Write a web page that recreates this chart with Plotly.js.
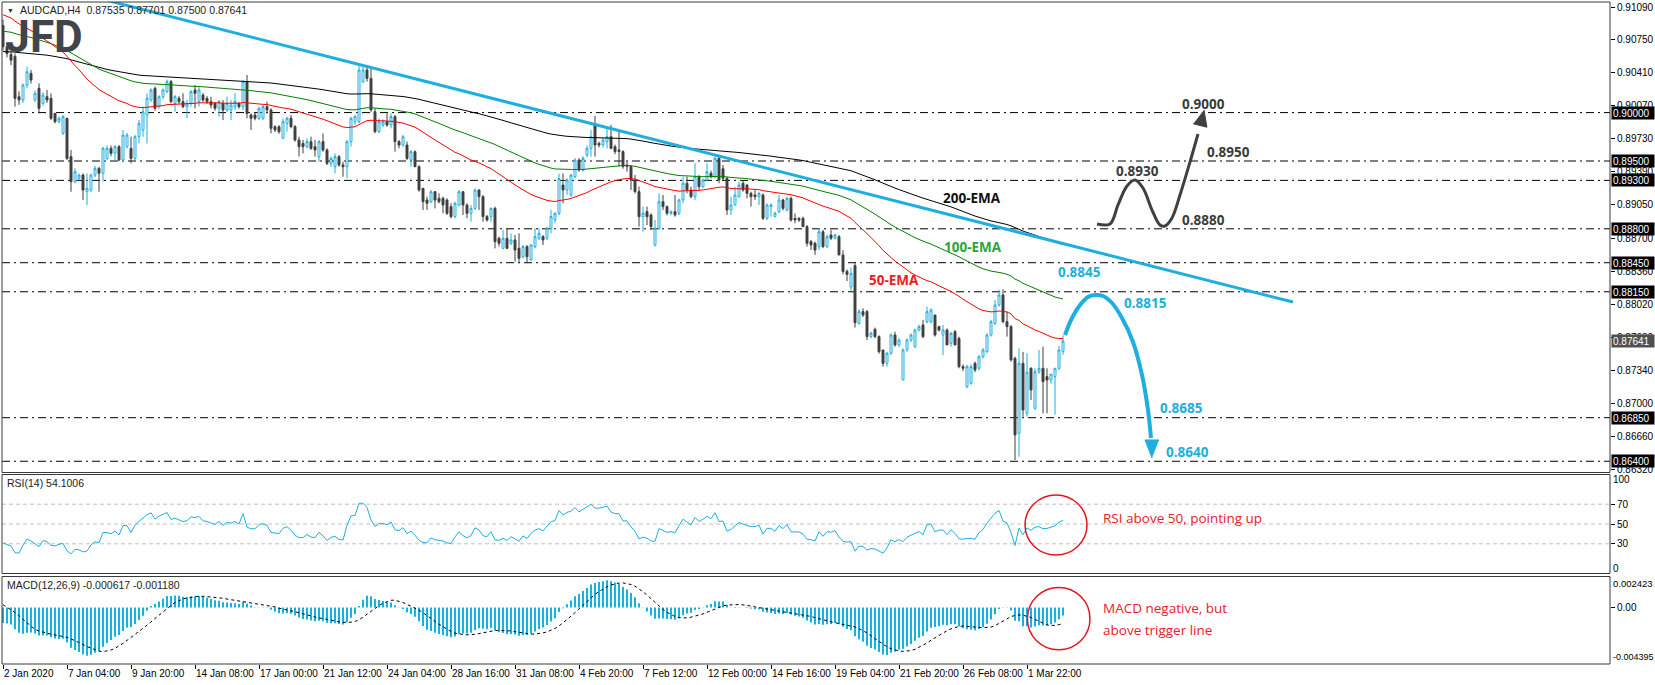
<!DOCTYPE html>
<html><head><meta charset="utf-8">
<script src="https://cdn.plot.ly/plotly-3.0.1.min.js"></script>
<style>html,body{margin:0;padding:0;background:#fff;}#chart{width:1655px;height:685px;}</style>
</head><body><div id="chart"></div>
<script>
// ---------------- DATA ----------------
const symbol = 'AUDCAD,H4';
const opens = [
0.9090,0.9068,0.9060,0.9058,0.90164,0.90130,0.90285,0.90405,0.90130,0.90250,
0.90095,0.90164,0.90147,0.89992,0.89906,0.89786,0.89941,0.89545,0.89287,0.89321,
0.89355,0.89183,0.89200,0.89355,0.89424,0.89373,0.89527,0.89631,0.89579,0.89648,
0.89510,0.89648,0.89631,0.89527,0.89751,0.89820,0.89975,0.90130,0.90250,0.90061,
0.90164,0.90216,0.90319,0.90095,0.90147,0.90113,0.90061,0.90095,0.90233,0.90113,
0.90181,0.90147,0.90113,0.90095,0.90044,0.90095,0.90027,0.90027,0.90061,0.90095,
0.90061,0.90319,0.89975,0.89975,0.89941,0.89941,0.90061,0.90027,0.89854,0.89854,
0.89734,0.89889,0.89941,0.89854,0.89717,0.89682,0.89648,0.89700,0.89648,0.89545,
0.89700,0.89614,0.89476,0.89441,0.89545,0.89459,0.89441,0.89700,0.89906,0.89906,
0.90319,0.90439,0.90353,0.90009,0.89803,0.89872,0.89906,0.89872,0.89958,0.89700,
0.89665,0.89665,0.89510,0.89596,0.89441,0.89218,0.89097,0.89080,0.89183,0.89115,
0.89115,0.89097,0.89029,0.88926,0.89046,0.89183,0.89046,0.88960,0.89011,0.89200,
0.89132,0.88926,0.88926,0.89011,0.88702,0.88598,0.88702,0.88650,0.88685,0.88598,
0.88512,0.88616,0.88478,0.88616,0.88702,0.88719,0.88702,0.88805,0.88891,0.88960,
0.89252,0.89201,0.89149,0.89338,0.89510,0.89407,0.89562,0.89631,0.89872,0.89682,
0.89665,0.89700,0.89751,0.89648,0.89614,0.89597,0.89459,0.89442,0.89304,0.89184,
0.88925,0.88977,0.88943,0.88633,0.88805,0.89080,0.89029,0.88960,0.88977,0.88960,
0.89098,0.89270,0.89201,0.89132,0.89338,0.89235,0.89304,0.89373,0.89338,0.89528,
0.89420,0.89321,0.88994,0.89046,0.89132,0.89270,0.89252,0.89166,0.89149,0.89132,
0.89149,0.88908,0.89029,0.88925,0.88977,0.89098,0.88994,0.89115,0.88908,0.88908,
0.88908,0.88822,0.88668,0.88650,0.88616,0.88770,0.88616,0.88736,0.88702,0.88719,
0.88530,0.88360,0.88200,0.88420,0.87824,0.87945,0.87945,0.87687,0.87762,0.87687,
0.87549,0.87411,0.87515,0.87704,0.87601,0.87239,0.87549,0.87652,0.87583,0.87755,
0.87807,0.87841,0.87841,0.87910,0.87790,0.87704,0.87755,0.87618,0.87738,0.87669,
0.87377,0.87171,0.87205,0.87411,0.87360,0.87480,0.87532,0.87704,0.87824,0.88014,
0.88117,0.87841,0.87790,0.87463,0.86689,0.87411,0.86895,0.87360,0.86947,0.87325,
0.87360,0.87274,0.87239,0.87274,0.87360,0.87535];
const highs = [
0.9096,0.9072,0.9063,0.9061,0.9022,0.9030,0.90474,0.9044,0.9023,0.90302,
0.9021,0.90233,0.90199,0.89995,0.8996,0.89975,0.89945,0.89614,0.89424,0.8937,
0.89373,0.89373,0.8937,0.8945,0.89441,0.89648,0.8966,0.8966,0.89665,0.89665,
0.89820,0.8979,0.89751,0.8977,0.89923,0.90061,0.90199,0.9025,0.9027,0.9018,
0.9025,0.9034,0.90336,0.90181,0.9017,0.90199,0.90130,0.90233,0.90285,0.90267,
0.9020,0.9017,0.90164,0.9011,0.90130,0.90130,0.90164,0.90130,0.90199,0.9011,
0.90336,0.90388,0.89992,0.9000,0.90061,0.90078,0.90113,0.90044,0.8987,0.8987,
0.89941,0.89958,0.89975,0.89872,0.89751,0.89717,0.89734,0.89751,0.89717,0.89717,
0.89786,0.89631,0.89545,0.89579,0.89562,0.89493,0.89717,0.89958,0.89975,0.90491,
0.90491,0.90491,0.90474,0.90044,0.89941,0.8993,0.89992,0.89992,0.89975,0.89717,
0.89768,0.89700,0.89614,0.89610,0.89459,0.8922,0.89132,0.89200,0.8919,0.89166,
0.89132,0.89115,0.89063,0.89080,0.89200,0.8919,0.89063,0.89046,0.89218,0.8921,
0.89149,0.88943,0.8902,0.89029,0.88719,0.88788,0.88805,0.88753,0.88736,0.88753,
0.88633,0.88633,0.8864,0.88805,0.88805,0.88736,0.88822,0.88994,0.8897,0.8937,
0.89373,0.89321,0.8937,0.8953,0.8953,0.8955,0.8966,0.89820,0.89965,0.8970,
0.8974,0.89837,0.89872,0.8967,0.89803,0.8961,0.89493,0.89459,0.89355,0.89235,
0.89029,0.89029,0.88960,0.88891,0.89166,0.89149,0.8904,0.8899,0.89149,0.8911,
0.89338,0.89338,0.89235,0.89476,0.89355,0.8932,0.89476,0.8940,0.89545,0.89545,
0.89459,0.89338,0.89132,0.89235,0.89287,0.89304,0.89260,0.89184,0.89201,0.89184,
0.89166,0.89063,0.89063,0.88977,0.89149,0.8911,0.8913,0.89132,0.88960,0.8892,
0.88925,0.88839,0.88685,0.88668,0.88805,0.88788,0.8874,0.88788,0.8875,0.88736,
0.88580,0.88380,0.88400,0.88460,0.8797,0.87980,0.87962,0.8774,0.8778,0.8770,
0.87549,0.87532,0.87721,0.87738,0.8767,0.87566,0.8767,0.8772,0.8777,0.8781,
0.87859,0.87996,0.8798,0.8791,0.8780,0.87807,0.87772,0.87738,0.87755,0.87687,
0.8740,0.87394,0.8740,0.8743,0.8750,0.8757,0.87721,0.87859,0.88065,0.88168,
0.88175,0.87945,0.87807,0.87480,0.87566,0.87530,0.87515,0.87370,0.87360,0.87549,
0.87583,0.87360,0.87300,0.87360,0.87590,0.87701];
const lows = [
0.9064,0.9057,0.9049,0.90061,0.9008,0.9010,0.9025,0.9030,0.9011,0.89992,
0.9007,0.9010,0.89923,0.89889,0.8989,0.89768,0.89510,0.89183,0.89269,0.8930,
0.89097,0.89046,0.8918,0.8933,0.89183,0.89287,0.8951,0.8955,0.89510,0.8950,
0.89493,0.8963,0.89476,0.8951,0.89682,0.89751,0.89682,0.9011,0.9002,0.9004,
0.9014,0.9020,0.90095,0.90009,0.9009,0.90044,0.89941,0.90061,0.90044,0.90061,
0.9011,0.9009,0.90044,0.9002,0.89958,0.89923,0.90009,0.89923,0.90027,0.9004,
0.90027,0.89941,0.89820,0.8992,0.89923,0.89923,0.89992,0.89786,0.8980,0.8978,
0.89734,0.89803,0.89837,0.89700,0.89545,0.89579,0.89631,0.89614,0.89545,0.89493,
0.89596,0.89459,0.89441,0.89373,0.89441,0.89338,0.89321,0.89648,0.89872,0.89889,
0.90302,0.90319,0.90009,0.89786,0.89786,0.8985,0.89854,0.89837,0.89596,0.89631,
0.89648,0.89510,0.89441,0.89441,0.89183,0.88994,0.88994,0.89063,0.89011,0.89063,
0.88960,0.88943,0.88908,0.88908,0.89029,0.88943,0.88908,0.88874,0.88994,0.88994,
0.88874,0.88874,0.88874,0.88598,0.88616,0.88598,0.8859,0.88633,0.88461,0.88444,
0.88495,0.88444,0.88470,0.88598,0.88685,0.88633,0.88685,0.88753,0.88857,0.8894,
0.89063,0.89149,0.8913,0.8932,0.8939,0.8939,0.8954,0.89545,0.89545,0.8964,
0.8964,0.89631,0.89620,0.8957,0.89442,0.8942,0.89390,0.89201,0.89166,0.88822,
0.88770,0.88839,0.88788,0.88616,0.88788,0.88994,0.8894,0.8894,0.88925,0.8894,
0.89063,0.89166,0.89115,0.89098,0.89201,0.8922,0.89287,0.8932,0.89321,0.89270,
0.89304,0.88943,0.88943,0.89040,0.89120,0.89184,0.89115,0.89029,0.89098,0.89046,
0.88891,0.88891,0.88925,0.88920,0.88960,0.8899,0.8898,0.88874,0.88857,0.8887,
0.88822,0.88616,0.88581,0.88530,0.88581,0.88600,0.8860,0.88685,0.8869,0.88530,
0.88330,0.88260,0.88160,0.87780,0.8781,0.87890,0.87652,0.8767,0.8767,0.8751,
0.87377,0.87377,0.87497,0.87583,0.8758,0.87239,0.8753,0.8763,0.8757,0.8774,
0.87669,0.87824,0.8782,0.87687,0.8774,0.87497,0.87601,0.87583,0.87601,0.87360,
0.8733,0.87154,0.8719,0.8732,0.8734,0.8746,0.87515,0.87687,0.87807,0.87996,
0.87824,0.87687,0.87429,0.86413,0.86447,0.86860,0.86861,0.87033,0.86930,0.87300,
0.86895,0.86895,0.87200,0.86880,0.87343,0.87500];
const closes = [
0.9068,0.9061,0.9054,0.90147,0.90130,0.90285,0.90422,0.90336,0.90199,0.90044,
0.90181,0.90130,0.89941,0.89906,0.89941,0.89958,0.89527,0.89287,0.89390,0.89355,
0.89200,0.89218,0.89355,0.89424,0.89373,0.89631,0.89631,0.89579,0.89648,0.89510,
0.89768,0.89768,0.89527,0.89751,0.89889,0.90009,0.90147,0.90233,0.90044,0.90164,
0.90233,0.90319,0.90113,0.90164,0.90113,0.90061,0.90095,0.90216,0.90199,0.90233,
0.90130,0.90113,0.90078,0.90044,0.90113,0.90027,0.90095,0.90078,0.90113,0.90061,
0.90319,0.89992,0.89941,0.89941,0.90044,0.90061,0.90027,0.89837,0.89820,0.89803,
0.89906,0.89941,0.89854,0.89717,0.89648,0.89648,0.89700,0.89631,0.89614,0.89700,
0.89614,0.89476,0.89527,0.89545,0.89459,0.89441,0.89700,0.89941,0.89958,0.90439,
0.90439,0.90353,0.90027,0.89803,0.89906,0.89906,0.89872,0.89958,0.89700,0.89665,
0.89751,0.89527,0.89596,0.89441,0.89200,0.89080,0.89063,0.89183,0.89097,0.89080,
0.89046,0.88960,0.88926,0.89063,0.89183,0.89046,0.88960,0.89011,0.89200,0.89132,
0.88926,0.88891,0.89011,0.88667,0.88650,0.88702,0.88598,0.88685,0.88581,0.88495,
0.88616,0.88512,0.88633,0.88719,0.88753,0.88685,0.88805,0.88926,0.88960,0.89320,
0.89201,0.89304,0.89355,0.89510,0.89407,0.89528,0.89631,0.89751,0.89665,0.89665,
0.89717,0.89751,0.89631,0.89597,0.89597,0.89442,0.89442,0.89304,0.89184,0.88925,
0.88960,0.88925,0.88822,0.88805,0.89080,0.89029,0.88960,0.88977,0.88943,0.89098,
0.89270,0.89201,0.89132,0.89338,0.89235,0.89304,0.89390,0.89338,0.89528,0.89304,
0.89321,0.88994,0.89046,0.89149,0.89252,0.89201,0.89166,0.89132,0.89132,0.89166,
0.88908,0.89046,0.89046,0.88960,0.89098,0.89011,0.89115,0.88891,0.88891,0.88891,
0.88822,0.88650,0.88633,0.88581,0.88770,0.88616,0.88719,0.88702,0.88736,0.88530,
0.88360,0.88330,0.88340,0.87830,0.87945,0.87910,0.87687,0.87721,0.87687,0.87532,
0.87411,0.87515,0.87704,0.87601,0.87652,0.87549,0.87652,0.87704,0.87755,0.87790,
0.87687,0.87945,0.87962,0.87704,0.87755,0.87755,0.87601,0.87721,0.87601,0.87377,
0.87360,0.87377,0.87377,0.87343,0.87480,0.87549,0.87704,0.87841,0.88014,0.88117,
0.87841,0.87790,0.87446,0.86672,0.87411,0.86930,0.87320,0.87137,0.87325,0.87360,
0.87222,0.87239,0.87300,0.87360,0.87549,0.87641];

const xTickIdx = [0,16,32,48,64,80,96,112,128,144,160,176,192,208,224,240,256];
const xTickLabels = ['2 Jan 2020','7 Jan 04:00','9 Jan 20:00','14 Jan 08:00','17 Jan 00:00','21 Jan 12:00',
  '24 Jan 04:00','28 Jan 16:00','31 Jan 08:00','4 Feb 20:00','7 Feb 12:00','12 Feb 00:00','14 Feb 16:00',
  '19 Feb 04:00','21 Feb 20:00','26 Feb 08:00','1 Mar 22:00'];
const priceTicks = [0.91090,0.90750,0.90410,0.90070,0.89730,0.89390,0.89050,0.88700,0.88360,0.88020,0.87680,0.87340,0.87000,0.86660,0.86320];
const levels = [0.9000,0.8950,0.8930,0.8880,0.8845,0.8815,0.8685,0.8640];

// indicator settings and the values they carry in from bars before the first visible one
const emaPeriods = [200,100,50];
const emaStart = [0.9063,0.9084,0.9101];
const rsiPeriod = 14;
const rsiStartGain = 0.00030, rsiStartLoss = 0.00067;
const macdFast = 12, macdSlow = 26, macdSignal = 9;
const macdStartFast = 0.9078, macdStartSlow = 0.9090, macdStartSignalAvg = 0.0004;
const rsiLevels = [70,50,30];

// trendline (bar index, price)
const trendX = [20, 322.5];
const trendY = [0.91221, 0.88044];

// scenario arrows (bar index, price)
const bullPathX = [273.5,276.75,278.75,281.0,283.0,285.0,287.25,289.25,290.5,292.25,294.25,296.75,298.75];
const bullPathY = [0.88850,0.88850,0.89046,0.89242,0.89304,0.89221,0.88994,0.88839,0.88829,0.88912,0.89149,0.89490,0.89779];
const bullHeadX = [300.25,300.98,297.58];
const bullHeadY = [0.90027,0.89849,0.89884];
const bearPathX = [265.5,267.25,269.25,271.25,273.0,275.0,277.25,279.75,282.5,284.75,286.25,287.0];
const bearPathY = [0.87704,0.87879,0.88013,0.88096,0.88117,0.88106,0.88034,0.87879,0.87631,0.87291,0.86929,0.86640];
const bearHeadX = [287.25,285.5,289.0];
const bearHeadY = [0.86434,0.86620,0.86620];

const emaLabelText = ['200-EMA','100-EMA','50-EMA'];
const emaLabelX = [242.25,242.5,222.75];
const emaLabelY = [0.89123,0.88612,0.88272];
const bullLabelText = ['0.9000','0.8950','0.8930','0.8880'];
const bullLabelX = [300,306.25,283.5,300];
const bullLabelY = [0.90089,0.89593,0.89392,0.88891];
const bearLabelText = ['0.8845','0.8815','0.8685','0.8640'];
const bearLabelX = [269,285.5,294.5,296];
const bearLabelY = [0.88354,0.88034,0.86950,0.86496];

const rsiTitle = 'RSI(14) 54.1006';
const macdTitle = 'MACD(12,26,9) -0.000617 -0.001180';
const rsiNote = 'RSI above 50, pointing up';
const macdNote = ['MACD negative, but','above trigger line'];
const rsiCircleX = [255.5,271], rsiCircleY = [18.7,79.3];
const macdCircleX = [256.1,271.75], macdCircleY = [-0.00329,0.00157];

// ---------------- INDICATORS ----------------
const idx = closes.map((_, i) => i);
function ema(src, n, start) {
  const a = 2 / (n + 1); const out = []; let v = start;
  for (let i = 0; i < src.length; i++) { if (i > 0) v = v + a * (src[i] - v); out.push(v); }
  return out;
}
const emaLines = emaPeriods.map((p, k) => ema(closes, p, emaStart[k]));
const rsi = [];
(function () {
  let g = rsiStartGain, l = rsiStartLoss;
  for (let i = 0; i < closes.length; i++) {
    if (i > 0) {
      const d = closes[i] - closes[i - 1];
      g = (g * (rsiPeriod - 1) + Math.max(d, 0)) / rsiPeriod;
      l = (l * (rsiPeriod - 1) + Math.max(-d, 0)) / rsiPeriod;
    }
    rsi.push(100 - 100 / (1 + g / l));
  }
})();
const fastE = ema(closes, macdFast, macdStartFast);
const slowE = ema(closes, macdSlow, macdStartSlow);
const macdMain = fastE.map((v, i) => v - slowE[i]);
const macdSig = macdMain.map((v, i) => {
  let s = 0, n = 0;
  for (let j = Math.max(0, i - macdSignal + 1); j <= i; j++) { s += macdMain[j]; n++; }
  s += macdStartSignalAvg * (macdSignal - n);
  return s / macdSignal;
});

// ---------------- LAYOUT ----------------
const W = 1655, H = 685, ML = 2, MR = 45, MT = 2, MB = 21;
const PH = H - MT - MB, PW = W - ML - MR;
const pyP = y => (H - MB - y) / PH;
const pxP = x => (x - ML) / PW;
const AXF = 'Liberation Sans, Arial, sans-serif';
const AXS = 10;
const BOLDF = 'Open Sans, DejaVu Sans, sans-serif';
const BLUE = '#1eaee0', BEAR = '#404040', BORDER = '#3a3a3a';

const mainDom = [pyP(472.5), 1], rsiDom = [pyP(573.5), pyP(474.5)], macdDom = [0, pyP(576.5)];
const priceRange = [0.862841, 0.911416];

const traces = [];
emaPeriods.forEach((p, k) => traces.push({
  type: 'scatter', mode: 'lines', x: idx, y: emaLines[k], xaxis: 'x', yaxis: 'y',
  line: { color: ['#000000', '#008000', '#ff0000'][k], width: 1 }, hoverinfo: 'skip'
}));
traces.push({ type: 'scatter', mode: 'lines', x: trendX, y: trendY, xaxis: 'x', yaxis: 'y',
  line: { color: BLUE, width: 3 }, hoverinfo: 'skip' });
traces.push({
  type: 'candlestick', x: idx, open: opens, high: highs, low: lows, close: closes,
  xaxis: 'x', yaxis: 'y', whiskerwidth: 0, hoverinfo: 'skip',
  increasing: { line: { color: BLUE, width: 1 }, fillcolor: '#ffffff' },
  decreasing: { line: { color: BEAR, width: 1 }, fillcolor: BEAR }
});
traces.push({ type: 'scatter', mode: 'lines', x: bullPathX, y: bullPathY, xaxis: 'x', yaxis: 'y',
  line: { color: '#404040', width: 3, shape: 'spline', smoothing: 1 }, hoverinfo: 'skip' });
traces.push({ type: 'scatter', mode: 'lines', x: bullHeadX, y: bullHeadY, xaxis: 'x', yaxis: 'y',
  fill: 'toself', fillcolor: '#404040', line: { color: '#404040', width: 1 }, hoverinfo: 'skip' });
traces.push({ type: 'scatter', mode: 'lines', x: bearPathX, y: bearPathY, xaxis: 'x', yaxis: 'y',
  line: { color: BLUE, width: 4, shape: 'spline', smoothing: 1 }, hoverinfo: 'skip' });
traces.push({ type: 'scatter', mode: 'lines', x: bearHeadX, y: bearHeadY, xaxis: 'x', yaxis: 'y',
  fill: 'toself', fillcolor: BLUE, line: { color: BLUE, width: 1 }, hoverinfo: 'skip' });
traces.push({ type: 'scatter', mode: 'lines', x: idx, y: rsi, xaxis: 'x', yaxis: 'y2',
  line: { color: BLUE, width: 1 }, hoverinfo: 'skip' });
traces.push({ type: 'bar', x: idx, y: macdMain, xaxis: 'x', yaxis: 'y3', width: 0.5,
  marker: { color: '#16b1e3', line: { width: 0 } }, hoverinfo: 'skip' });
traces.push({ type: 'scatter', mode: 'lines', x: idx, y: macdSig, xaxis: 'x', yaxis: 'y3',
  line: { color: '#000', width: 1, dash: '3px,3px' }, hoverinfo: 'skip' });

const shapes = [];
levels.forEach(v => shapes.push({ type: 'line', xref: 'paper', x0: 0, x1: 1, yref: 'y', y0: v, y1: v,
  line: { color: '#000', width: 1, dash: '8px,4px,2px,4px' }, layer: 'below' }));
rsiLevels.forEach(v => shapes.push({ type: 'line', xref: 'paper', x0: 0, x1: 1, yref: 'y2', y0: v, y1: v,
  line: { color: '#c0c0c0', width: 1, dash: '4px,3px' }, layer: 'below' }));
[mainDom, rsiDom, macdDom].forEach(d => shapes.push({ type: 'rect', xref: 'paper', yref: 'paper',
  x0: 0, x1: 1, y0: d[0], y1: d[1], line: { color: BORDER, width: 1 }, fillcolor: 'rgba(0,0,0,0)', layer: 'above' }));
shapes.push({ type: 'circle', xref: 'x', yref: 'y2', x0: rsiCircleX[0], x1: rsiCircleX[1], y0: rsiCircleY[0], y1: rsiCircleY[1],
  line: { color: '#e8141c', width: 1.5 }, layer: 'above' });
shapes.push({ type: 'circle', xref: 'x', yref: 'y3', x0: macdCircleX[0], x1: macdCircleX[1], y0: macdCircleY[0], y1: macdCircleY[1],
  line: { color: '#e8141c', width: 1.5 }, layer: 'above' });

const ann = [];
const last = closes.length - 1;
// logo
ann.push({ xref: 'paper', yref: 'paper', x: pxP(44), y: pyP(37), text: '<b>JFD</b>', showarrow: false,
  height: 34, width: 76, borderpad: 0, valign: 'middle',
  font: { family: 'Roboto, Liberation Sans, sans-serif', size: 44, color: '#40454c' }, xanchor: 'center', yanchor: 'middle' });
// header
ann.push({ xref: 'paper', yref: 'paper', x: pxP(5), y: pyP(10.5), text: '▼', showarrow: false,
  font: { family: AXF, size: 7, color: '#333' }, xanchor: 'left', yanchor: 'middle' });
ann.push({ xref: 'paper', yref: 'paper', x: pxP(18), y: pyP(10), showarrow: false, xanchor: 'left', yanchor: 'middle',
  text: symbol + '  ' + [opens[last], highs[last], lows[last], closes[last]].map(v => v.toFixed(5)).join(' '),
  font: { family: AXF, size: 10.5, color: '#222' } });
ann.push({ xref: 'paper', yref: 'paper', x: pxP(5), y: pyP(483), text: rsiTitle, showarrow: false, xanchor: 'left', yanchor: 'middle',
  font: { family: AXF, size: 10.5, color: '#222' } });
ann.push({ xref: 'paper', yref: 'paper', x: pxP(5), y: pyP(585), text: macdTitle, showarrow: false, xanchor: 'left', yanchor: 'middle',
  font: { family: AXF, size: 10.5, color: '#222' } });
// EMA labels
emaLabelText.forEach((t, k) => ann.push({ x: emaLabelX[k], y: emaLabelY[k], xref: 'x', yref: 'y', text: '<b>' + t + '</b>',
  showarrow: false, font: { family: BOLDF, size: 13.5, color: ['#111111', '#2aa63a', '#ee1c25'][k] } }));
bullLabelText.forEach((t, k) => ann.push({ x: bullLabelX[k], y: bullLabelY[k], xref: 'x', yref: 'y', text: '<b>' + t + '</b>',
  showarrow: false, font: { family: BOLDF, size: 13.5, color: '#3a3a3a' } }));
bearLabelText.forEach((t, k) => ann.push({ x: bearLabelX[k], y: bearLabelY[k], xref: 'x', yref: 'y', text: '<b>' + t + '</b>',
  showarrow: false, font: { family: BOLDF, size: 13.5, color: BLUE } }));
// notes
ann.push({ x: 274.5, xref: 'x', y: pyP(518), yref: 'paper', text: rsiNote, showarrow: false, xanchor: 'left', yanchor: 'middle',
  font: { family: 'Open Sans, sans-serif', size: 13.5, color: '#e8202a' } });
macdNote.forEach((t, k) => ann.push({ x: 274.5, xref: 'x', y: pyP(608 + 22 * k), yref: 'paper', text: t, showarrow: false,
  xanchor: 'left', yanchor: 'middle', font: { family: 'Open Sans, sans-serif', size: 13.5, color: '#e8202a' } }));
// price boxes
levels.forEach(v => ann.push({ xref: 'paper', x: 1, xanchor: 'left', xshift: 1, yref: 'y', y: v, yanchor: 'middle',
  text: v.toFixed(5), showarrow: false, bgcolor: '#000', borderpad: 1, width: 40, height: 10, align: 'left',
  font: { family: AXF, size: AXS, color: '#fff' } }));
ann.push({ xref: 'paper', x: 1, xanchor: 'left', xshift: 1, yref: 'y', y: closes[last], yanchor: 'middle',
  text: closes[last].toFixed(5), showarrow: false, bgcolor: '#505050', borderpad: 1, width: 40, height: 10, align: 'left',
  font: { family: AXF, size: AXS, color: '#fff' } });
// edge axis labels
[['100', 479, AXS], ['0', 568, AXS], ['0.002423', 583, 9.5], ['-0.004395', 657, 9]].forEach(a => ann.push({ xref: 'paper', x: 1, xanchor: 'left', xshift: 1,
  yref: 'paper', y: pyP(a[1]), yanchor: 'middle', text: a[0], showarrow: false, font: { family: AXF, size: a[2], color: '#000' } }));
// x labels
xTickIdx.forEach((v, k) => ann.push({ x: v, xref: 'x', y: 0, yref: 'paper', yanchor: 'top', yshift: -2, xanchor: 'left', xshift: -1,
  text: xTickLabels[k], showarrow: false, font: { family: AXF, size: AXS, color: '#000' } }));

const yBase = { showgrid: false, zeroline: false, showline: false, side: 'right', ticks: 'outside', ticklen: 4,
  tickcolor: '#000', tickfont: { family: AXF, size: AXS, color: '#000' }, fixedrange: true };

const layout = {
  width: W, height: H, margin: { l: ML, r: MR, t: MT, b: MB, pad: 0 },
  paper_bgcolor: '#fff', plot_bgcolor: '#fff', showlegend: false, hovermode: false,
  boxgap: 0.3,
  xaxis: { anchor: 'y3', range: [-0.25, 401.75], tickvals: xTickIdx, ticks: 'outside', ticklen: 4, tickcolor: '#000',
    showticklabels: false, showgrid: false, zeroline: false, showline: false, rangeslider: { visible: false }, fixedrange: true },
  yaxis: Object.assign({}, yBase, { domain: mainDom, range: priceRange, tickvals: priceTicks,
    ticktext: priceTicks.map(v => v.toFixed(5)), anchor: 'x' }),
  yaxis2: Object.assign({}, yBase, { domain: rsiDom, range: [0, 100], tickvals: rsiLevels, ticktext: rsiLevels.map(String), anchor: 'x' }),
  yaxis3: Object.assign({}, yBase, { domain: macdDom, range: [-0.004395, 0.002423], tickvals: [0], ticktext: ['0.00'], anchor: 'x' }),
  shapes: shapes, annotations: ann
};
Plotly.newPlot('chart', traces, layout, { displayModeBar: false, staticPlot: true });
</script></body></html>
